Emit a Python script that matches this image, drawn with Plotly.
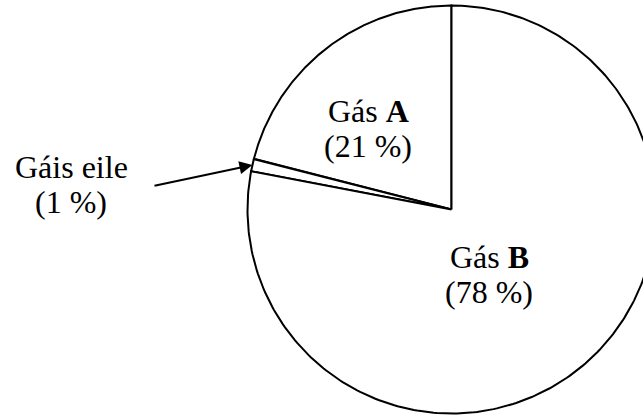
import numpy as np
import plotly.graph_objects as go

# Data
labels = ["Gás <b>A</b>", "Gáis eile", "Gás <b>B</b>"]
values = [21, 1, 78]
value_labels = ["(21 %)", "(1 %)", "(78 %)"]

W, H = 643, 416
cx, cy, r = 451.5, 209.5, 204.0
FONT = "Liberation Serif, Times New Roman, serif"

fig = go.Figure()

total = float(sum(values))
cum = np.concatenate([[0.0], np.cumsum(values)]) / total
for i in range(len(values)):
    # angle measured from 12 o'clock, counterclockwise
    th = np.linspace(cum[i], cum[i + 1], 300) * 2 * np.pi
    xs = np.concatenate([[cx], cx - r * np.sin(th), [cx]])
    ys = np.concatenate([[cy], cy - r * np.cos(th), [cy]])
    fig.add_trace(go.Scatter(x=xs, y=ys, mode="lines", fill="toself",
                             fillcolor="white",
                             line=dict(color="black", width=2),
                             hoverinfo="skip", showlegend=False))

def label(x, yb, text):
    fig.add_annotation(x=x, y=yb - 11, xref="x", yref="y", text=text,
                       showarrow=False, xanchor="center", yanchor="middle",
                       font=dict(family=FONT, size=32, color="black"))

# in-slice labels
label(368, 122, labels[0]); label(368, 157, value_labels[0])
label(489, 268, labels[2]); label(489, 303, value_labels[2])
# outside label for small slice
label(71, 178, labels[1]); label(71, 213, value_labels[1])

# arrow to the small slice (mid-angle of slice)
mid = (cum[1] + cum[2]) / 2 * 2 * np.pi
ax_tip = cx - r * np.sin(mid)
ay_tip = cy - r * np.cos(mid)
fig.add_annotation(x=ax_tip, y=ay_tip, ax=153, ay=186, axref="x", ayref="y",
                   xref="x", yref="y", text="", showarrow=True,
                   arrowhead=2, arrowsize=1.3, arrowwidth=2, arrowcolor="black",
                   standoff=0)

fig.update_layout(
    width=W, height=H, margin=dict(l=0, r=0, t=0, b=0),
    paper_bgcolor="white", plot_bgcolor="white",
    xaxis=dict(range=[0, W], visible=False, fixedrange=True),
    yaxis=dict(range=[H, 0], visible=False, fixedrange=True),
    showlegend=False,
)

fig.write_html("out.html", config={"displayModeBar": False},
               post_script="document.body.style.margin='0';"
                           "document.body.style.overflow='hidden';")
